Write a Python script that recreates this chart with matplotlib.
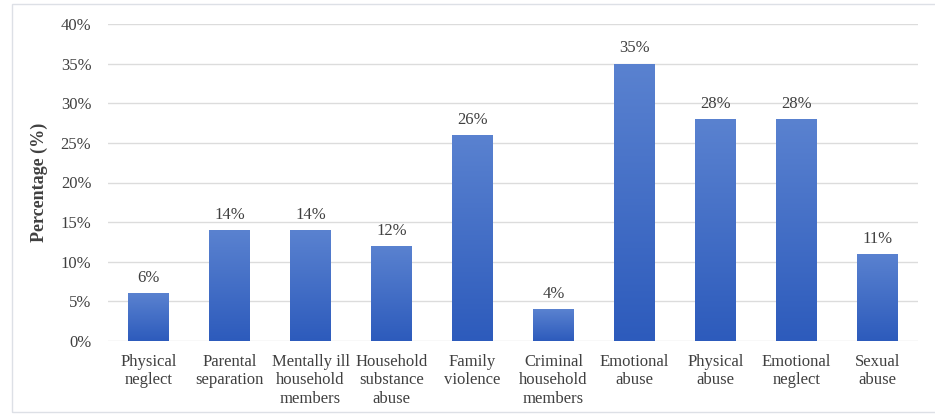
import numpy as np
import matplotlib
matplotlib.use("Agg")
import matplotlib.pyplot as plt
from matplotlib.colors import LinearSegmentedColormap
from matplotlib.patches import Rectangle

categories = ["Physical\nneglect", "Parental\nseparation", "Mentally ill\nhousehold\nmembers",
              "Household\nsubstance\nabuse", "Family\nviolence", "Criminal\nhousehold\nmembers",
              "Emotional\nabuse", "Physical\nabuse", "Emotional\nneglect", "Sexual\nabuse"]
values = [6, 14, 14, 12, 26, 4, 35, 28, 28, 11]
yticks = [0, 5, 10, 15, 20, 25, 30, 35, 40]

plt.rcParams['font.family'] = ['Liberation Serif', 'DejaVu Serif']
text_color = '#404040'

fig = plt.figure(figsize=(9.35, 4.16), dpi=100)
ax = fig.add_axes([108 / 935, 1 - 341 / 416, 810 / 935, 317 / 416])

x = np.arange(len(values))
bars = ax.bar(x, values, width=0.5, color='none', edgecolor='none', zorder=2)

cmap = LinearSegmentedColormap.from_list('blu', ['#2d5bbc', '#5a82d0'])
grad = np.linspace(0, 1, 256).reshape(-1, 1)
for b, v in zip(bars, values):
    x0, y0, w, h = b.get_x(), b.get_y(), b.get_width(), b.get_height()
    im = ax.imshow(grad, extent=[x0, x0 + w, y0, y0 + h], origin='lower',
                   cmap=cmap, aspect='auto', zorder=2)
    clip = Rectangle((x0, y0), w, h, transform=ax.transData, facecolor='none')
    ax.add_patch(clip)
    im.set_clip_path(clip)
    ax.text(x0 + w / 2, h + 0.9, f"{v}%", ha='center', va='bottom',
            fontsize=12, color=text_color)

ax.set_xlim(-0.5, len(values) - 0.5)
ax.set_ylim(0, 40)
ax.set_yticks(yticks)
ax.set_yticklabels([f"{t}%" for t in yticks], fontsize=12, color=text_color)
ax.set_xticks(x)
ax.set_xticklabels(categories, fontsize=12, color=text_color, linespacing=1.22)
ax.tick_params(axis='x', length=0, pad=9)
ax.tick_params(axis='y', length=0, pad=12)
ax.grid(axis='y', color='#dcdcdc', linewidth=1, zorder=0)
ax.set_axisbelow(True)
for s in ax.spines.values():
    s.set_visible(False)
ax.set_ylabel("Percentage (%)", fontsize=13, fontweight='bold', color=text_color, labelpad=9)

fig.patches.append(Rectangle((12 / 935, 4 / 416), 1, 1 - 8 / 416, transform=fig.transFigure,
                             facecolor='none', edgecolor='#dde0e6', linewidth=1))

fig.savefig('out.png', dpi=100)
